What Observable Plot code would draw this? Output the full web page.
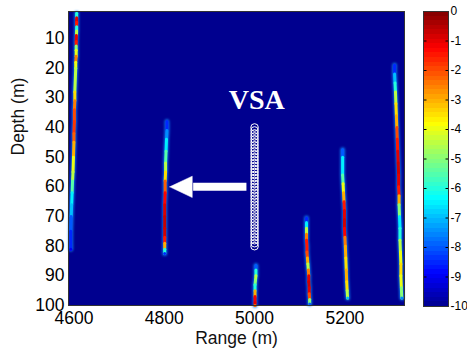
<!DOCTYPE html>
<html><head><meta charset="utf-8">
<script src="https://cdn.jsdelivr.net/npm/d3@7"></script>
<script src="https://cdn.jsdelivr.net/npm/@observablehq/plot@0.6"></script>
<style>
body{margin:0;background:#fff;}
#wrap{position:relative;width:467px;height:349px;overflow:hidden;}
#wrap svg{position:absolute;top:0;}
</style></head><body><div id="wrap"></div>
<script>
// ---- axis ticks ----
const xTicks = [4600, 4800, 5000, 5200];
const yTicks = [10, 20, 30, 40, 50, 60, 70, 80, 90, 100];
const cbTicks = [0, -1, -2, -3, -4, -5, -6, -7, -8, -9, -10];
const rangeDomain = [4588, 5332];
const depthDomain = [0.9, 100];

// ---- jet colour map (level in dB) ----
const jetStops  = [-10, -8.89, -6.35, -3.81, -1.27, 0];
const jetColors = ["#00008F", "#0000FF", "#00FFFF", "#FFFF00", "#FF0000", "#800000"];

// ---- streaks: [depth (m), range (m), level (dB)] ----
const streak4600 = [
  [1.5,4606,-6],[3,4606,-1],[4.5,4606,-1.5],[6,4606,-6],[7.5,4606,-4.5],[9,4605.5,-1],[11,4605,-1.5],
  [12.5,4605,-5],[14,4605,-4],[16,4605,-2.5],[18,4604,-4],[20,4604,-4.5],[24,4603,-4.5],[28,4602,-3.5],
  [31,4602,-2.5],[34,4601,-2],[38,4601,-1.8],[42,4600,-2.2],[45,4600,-3],[50,4599,-4],[55,4598,-4.5],
  [58,4597,-5.5],[62,4596,-6.5],[66,4595,-7],[70,4594,-8],[75,4593,-8.5],[81,4593,-9]
];
const streak4800 = [
  [38,4806,-8.5],[41,4806,-7.5],[44,4805,-6.5],[48,4804,-5.5],[52,4803,-4.5],[55,4803,-3.5],[58,4802,-2.2],
  [62,4802,-1.3],[66,4801,-0.9],[70,4801,-0.7],[74,4801,-0.8],[77,4801,-1.5],[79,4801,-3],[81,4801,-6],[82.5,4801,-8.5]
];
const streak5000 = [
  [86.5,5003,-8],[88,5003,-6],[90,5003,-4.5],[91.5,5002,-5],[93,5001,-6],[95,5001,-3],[97,5001,-1.2],[99,5001,-1],[100,5001,-2.5]
];
const streak5120 = [
  [70.5,5115,-8.5],[72,5115,-6.5],[74,5115,-4.5],[76,5115,-2.5],[78,5115,-1.5],[80,5116,-1.5],[82,5116,-2],
  [84,5117,-3],[86,5118,-4.5],[88,5119,-2.5],[90,5120,-1],[92,5120,-0.8],[94,5121,-1],[96,5121,-2],[98,5122,-5],[99.5,5122,-8]
];
const streak5200 = [
  [47.5,5195,-8],[50,5195,-6.5],[53,5195,-6.5],[56,5195,-5.5],[59,5196,-4],[62,5197,-3],[65,5198,-1.5],
  [68,5199,-1],[71,5199,-0.8],[74,5199,-1.2],[77,5200,-2.5],[80,5201,-3],[84,5202,-3.5],[88,5203,-3],
  [92,5204,-3.5],[95,5205,-4.5],[97.5,5206,-7]
];
const streak5310 = [
  [19,5310,-8.5],[22,5310,-7],[25,5311,-6],[28,5312,-4.5],[32,5313,-3.5],[36,5314,-3],[40,5315,-2],
  [44,5316,-1.5],[48,5317,-1],[52,5318,-0.8],[56,5319,-1],[60,5319,-1.5],[63,5320,-3],[66,5320,-5],
  [70,5321,-6.5],[74,5322,-6],[78,5322,-4.5],[82,5323,-4],[86,5324,-3.5],[90,5324,-4],[94,5325,-5],[97.5,5326,-7.5]
];

// ---- VSA array elements and annotations ----
const vsaRange = 5000;
const vsaDepths = [40,41,42,43,44,45,46,47,48,49,50,51,52,53,54,55,56,57,58,59,60,
                   61,62,63,64,65,66,67,68,69,70,71,72,73,74,75,76,77,78,79,80];
const vsaLabel = ["VSA"];
const vsaLabelPos = [5005, 30.7];
const arrowRange = [4982, 4862, 4812]; // tail, head base, tip
const arrowDepth = [60, 3.6];          // depth, head half-height

const streaks = [["a", streak4600], ["b", streak4800], ["c", streak5000], ["d", streak5120], ["e", streak5200], ["f", streak5310]];
const rows = streaks.flatMap(([id, pts]) => pts.map(([depth, range, level]) => ({id, depth, range, level})));
const vsaRows = vsaDepths.map(depth => ({range: vsaRange, depth}));
const headRows = [
  {range: arrowRange[2], depth: arrowDepth[0]},
  {range: arrowRange[1], depth: arrowDepth[0] - arrowDepth[1]},
  {range: arrowRange[1], depth: arrowDepth[0] + arrowDepth[1]},
  {range: arrowRange[2], depth: arrowDepth[0]}
];

const color = {type: "linear", domain: jetStops, range: jetColors, interpolate: "rgb", clamp: true};
const font = "'Liberation Sans', Arial, sans-serif";

const main = Plot.plot({
  width: 467, height: 349,
  marginLeft: 68, marginRight: 63, marginTop: 11, marginBottom: 44,
  style: {fontFamily: font, fontSize: "17.5px", background: "white", color: "#000"},
  x: {domain: rangeDomain, ticks: xTicks, tickSize: 0, tickPadding: 6, label: null, tickFormat: d => String(d)},
  y: {domain: depthDomain, reverse: true, ticks: yTicks, tickSize: 0, tickPadding: 4, label: null, tickFormat: d => String(d)},
  color,
  marks: [
    Plot.frame({fill: "#00008F", stroke: null}),
    Plot.line(rows, {x: "range", y: "depth", z: "id", stroke: "#0c8cff", strokeWidth: 5, strokeLinecap: "round", strokeOpacity: 0.75, curve: "catmull-rom"}),
    Plot.line(rows, {x: "range", y: "depth", z: "id", stroke: "level", strokeWidth: 3, strokeLinecap: "round", curve: "catmull-rom"}),
    Plot.dot(vsaRows, {x: "range", y: "depth", r: 3.8, stroke: "white", strokeWidth: 1, fill: "none"}),
    Plot.link([arrowDepth[0]], {x1: () => arrowRange[0], x2: () => arrowRange[1] + 2, y1: d => d, y2: d => d, stroke: "white", strokeWidth: 8}),
    Plot.line(headRows, {x: "range", y: "depth", fill: "white", stroke: "white", strokeWidth: 0.5}),
    Plot.text(vsaLabel, {x: () => vsaLabelPos[0], y: () => vsaLabelPos[1], text: d => d, fill: "white",
      fontSize: 28, fontWeight: "bold", fontFamily: "'Liberation Serif', 'Times New Roman', serif"}),
    Plot.frame({stroke: "#333", strokeWidth: 1}),
    Plot.text(["Range (m)"], {frameAnchor: "bottom", dy: 38, text: d => d, fontSize: 17.5, fill: "#111"}),
    Plot.text(["Depth (m)"], {frameAnchor: "left", dx: -50, dy: -3, rotate: -90, text: d => d, fontSize: 17.5, fill: "#111"})
  ]
});
// soften the streaks like a smoothed image
const lineGroups = main.querySelectorAll('g[aria-label="line"]');
if (lineGroups[0]) lineGroups[0].style.filter = "blur(1px)";
if (lineGroups[1]) lineGroups[1].style.filter = "blur(0.5px)";

const nBands = 64;
const bands = d3.range(nBands).map(i => ({
  y1: -10 + i * 10 / nBands, y2: -10 + (i + 1) * 10 / nBands, v: -10 + (i + 0.5) * 10 / nBands
}));

const bar = Plot.plot({
  width: 67, height: 349,
  marginLeft: 23, marginRight: 19, marginTop: 11, marginBottom: 43,
  style: {fontFamily: font, fontSize: "12px", background: "transparent", color: "#000"},
  x: {domain: [0, 1], axis: null},
  y: {domain: [-10, 0], ticks: cbTicks, axis: "right", tickSize: 0, tickPadding: 2, label: null, tickFormat: d => String(d)},
  color,
  marks: [
    Plot.rect(bands, {x1: 0, x2: 1, y1: "y1", y2: "y2", fill: "v", inset: 0, shapeRendering: "crispEdges"}),
    Plot.link(cbTicks, {x1: () => 0, x2: () => 0.12, y1: d => d, y2: d => d, stroke: "#000", strokeWidth: 1}),
    Plot.link(cbTicks, {x1: () => 0.88, x2: () => 1, y1: d => d, y2: d => d, stroke: "#000", strokeWidth: 1}),
    Plot.frame({stroke: "#333", strokeWidth: 1})
  ]
});
bar.style.left = "400px";
main.style.left = "0px";

const wrap = document.getElementById("wrap");
wrap.appendChild(main);
wrap.appendChild(bar);
</script></body></html>
